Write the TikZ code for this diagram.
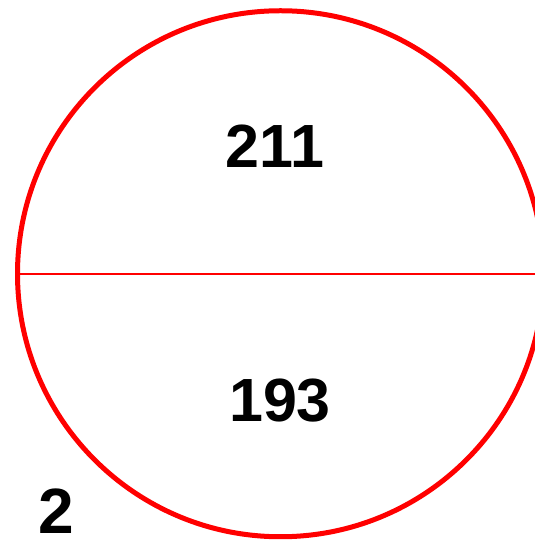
\documentclass[tikz,border=0pt]{standalone}
\usepackage{fontspec}
\setmainfont{Liberation Sans}
\begin{document}
\begin{tikzpicture}[x=1pt,y=1pt,
  numtext/.style={font=\bfseries\fontsize{61}{61}\selectfont, inner sep=0pt, text=black},
  ring/.style={circle, draw=red, line width=5pt, minimum size=526pt, inner sep=0pt},
  divider/.style={draw=red, line width=2pt}]
\useasboundingbox (0,0) rectangle (535,546);
\node[ring] (c) at (280.5,272.25) {};
\draw[divider] (c.west) -- (c.east);
\node[numtext] (top) at (275,400) {211};
\node[numtext] (bot) at (280,145) {193};
\node[numtext, font=\bfseries\fontsize{64}{64}\selectfont] (lbl) at (56,35) {2};
\end{tikzpicture}
\end{document}
